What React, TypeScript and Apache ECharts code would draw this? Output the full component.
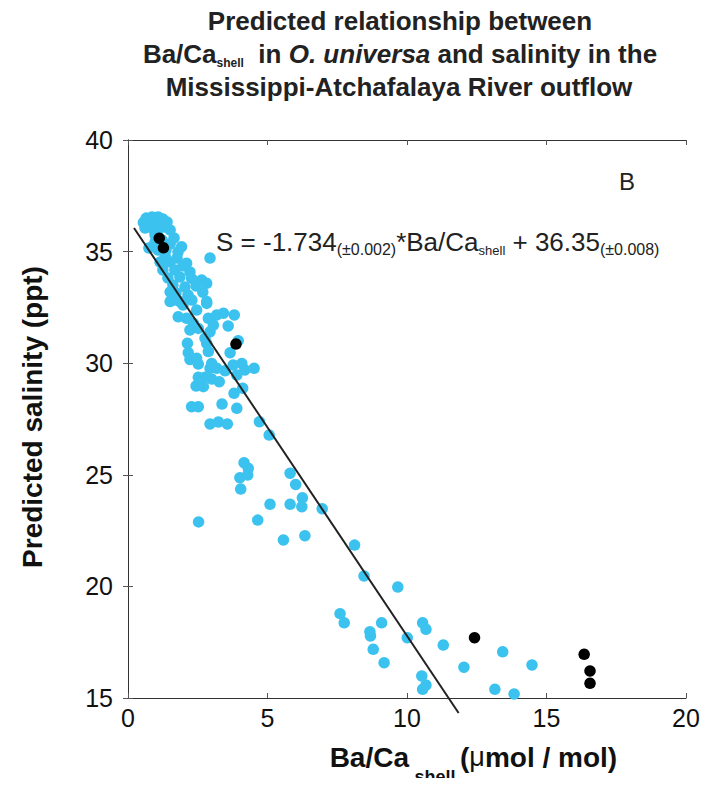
import React, { useEffect, useRef } from "react";
import * as echarts from "echarts";

// Ba/Ca shell (µmol/mol) and predicted salinity (ppt) – blue points
const blueBaCa = [
  0.65, 0.86, 1.08, 1.25, 0.75, 1.0, 1.22, 1.4, 0.61, 0.9, 1.51, 0.97, 1.65, 0.75, 1.51, 1.92, 1.79, 1.33,
  1.15, 1.51, 2.1, 2.94, 1.25, 1.68, 1.43, 1.86, 2.28, 2.64, 2.82, 1.61, 2.04, 2.68, 1.72, 2.15, 2.82, 1.97,
  1.08, 1.36, 0.97, 1.22, 1.76, 1.97, 2.22, 2.44, 1.65, 2.29, 1.51,
  1.51, 1.86, 2.82, 1.8, 2.46, 2.1, 2.34, 2.22, 2.52, 2.88, 3.06, 3.18, 3.42, 3.81, 3.59, 2.94, 2.76, 2.13,
  2.82, 2.88, 3.95, 3.66, 2.16, 2.22, 2.46, 2.52, 3.0, 2.94, 3.18, 3.48, 3.77, 4.08, 4.19, 4.52, 3.9, 2.52,
  2.76, 3.0, 3.27, 2.44, 2.7, 4.11, 3.8, 2.28, 2.52, 3.37, 3.9, 2.94, 3.24, 3.56,
  4.71, 5.06, 4.16, 4.31, 4.01, 4.29, 4.04, 5.81, 6.01, 6.25, 6.23, 5.81, 5.09, 6.96, 4.65, 2.53, 5.57, 6.34,
  8.12, 8.46, 9.67, 7.6, 7.75, 8.67, 8.69, 9.09, 8.79, 9.18, 10.01, 10.56, 10.68, 11.3, 12.04, 10.53, 10.68,
  10.56, 13.15, 13.43, 14.48, 13.84,
  0.8, 1.12, 0.7, 1.3, 0.55, 1.05,
];
const bluePredSal = [
  36.5, 36.55, 36.55, 36.46, 36.28, 36.28, 36.19, 36.33, 36.06, 36.01, 35.97, 35.74, 35.61, 35.16, 35.34,
  35.22, 34.98, 34.8, 34.53, 34.53, 34.48, 34.71, 34.18, 34.18, 33.82, 33.86, 33.8, 33.73, 33.58, 33.5, 33.41,
  33.18, 33.15, 33.06, 32.76, 32.61,
  35.07, 35.07, 35.43, 35.52, 34.71, 34.36, 34.09, 33.46, 32.83, 32.83, 33.19,
  32.76, 32.76, 32.68, 32.08, 32.38, 32.01, 31.79, 31.49, 31.56, 32.01, 31.71, 32.16, 32.24, 32.16, 31.67,
  31.41, 31.12, 30.89, 30.89, 30.52, 31.01, 30.47, 30.47, 30.17, 30.22, 29.96, 29.99, 29.77, 29.77, 29.66,
  29.92, 29.99, 29.7, 29.77, 29.47, 29.37, 29.37, 29.29, 29.17, 28.98, 28.95, 28.88, 28.65, 28.05, 28.05,
  28.17, 27.98, 27.28, 27.37, 27.28,
  27.38, 26.78, 25.54, 25.29, 24.87, 24.99, 24.36, 25.07, 24.57, 23.97, 23.57, 23.68, 23.68, 23.48, 22.97,
  22.89, 22.08, 22.27, 21.85, 20.47, 19.97, 18.78, 18.37, 17.97, 17.78, 18.37, 17.18, 16.58, 17.7, 18.37,
  18.08, 17.37, 16.38, 15.99, 15.58, 15.39, 15.39, 17.07, 16.48, 15.18,
  36.4, 36.4, 36.15, 36.1, 36.3, 35.9,
];

// black points
const blackBaCa = [1.12, 1.27, 3.87, 12.42, 16.35, 16.56, 16.56];
const blackPredSal = [35.6, 35.17, 30.86, 17.7, 16.96, 16.21, 15.66];

// regression line end points as drawn
const fitBaCa = [0.215, 11.85];
const fitPredSal = [36.06, 14.33];

const xTicks = [0, 5, 10, 15, 20];
const yTicks = [15, 20, 25, 30, 35, 40];

const BLUE = "#3cc2ef";
const SANS = "'Liberation Sans', Arial, Helvetica, sans-serif";

export default function App() {
  const ref = useRef<HTMLDivElement>(null);
  useEffect(() => {
    if (!ref.current) return;
    const chart = echarts.init(ref.current, undefined, { renderer: "svg" });
    const blue = blueBaCa.map((x, i) => [x, bluePredSal[i]]);
    const black = blackBaCa.map((x, i) => [x, blackPredSal[i]]);
    const fit = fitBaCa.map((x, i) => [x, fitPredSal[i]]);
    const axisLine = { show: true, lineStyle: { color: "#333", width: 1 } };
    const tick = { show: true, inside: true, length: 5, lineStyle: { color: "#555", width: 1 } };
    chart.setOption({
      animation: false,
      backgroundColor: "#fff",
      grid: { left: 128, top: 140, width: 558, height: 558, containLabel: false },
      xAxis: [
        {
          type: "value",
          min: xTicks[0],
          max: xTicks[xTicks.length - 1],
          interval: 5,
          axisLine,
          axisTick: tick,
          splitLine: { show: false },
          axisLabel: { color: "#111", fontSize: 25, fontFamily: SANS, margin: 7 },
        },
        {
          type: "value",
          position: "top",
          min: 0,
          max: 20,
          interval: 5,
          axisLine,
          axisTick: tick,
          splitLine: { show: false },
          axisLabel: { show: false },
        },
      ],
      yAxis: [
        {
          type: "value",
          min: yTicks[0],
          max: yTicks[yTicks.length - 1],
          interval: 5,
          axisLine,
          axisTick: tick,
          splitLine: { show: false },
          axisLabel: { color: "#111", fontSize: 25, fontFamily: SANS, margin: 15 },
        },
        {
          type: "value",
          position: "right",
          min: 15,
          max: 40,
          interval: 5,
          axisLine,
          axisTick: tick,
          splitLine: { show: false },
          axisLabel: { show: false },
        },
      ],
      series: [
        {
          type: "scatter",
          data: blue,
          symbolSize: 11.5,
          itemStyle: { color: BLUE, opacity: 1 },
          z: 2,
        },
        {
          type: "line",
          data: fit,
          clip: false,
          symbol: "none",
          lineStyle: { color: "#222", width: 2 },
          z: 3,
        },
        {
          type: "scatter",
          data: black,
          symbolSize: 11.5,
          itemStyle: { color: "#000", opacity: 1 },
          z: 4,
        },
      ],
      graphic: [
        {
          type: "text",
          x: 400,
          y: 21,
          style: {
            text: "Predicted relationship between",
            font: `bold 26px ${SANS}`,
            fill: "#222",
            textAlign: "center",
            textVerticalAlign: "middle",
          },
        },
        {
          type: "text",
          x: 400,
          y: 54,
          style: {
            text: "{b|Ba/Ca}{s|shell}{b|  in }{i|O. universa}{b| and salinity in the}",
            fill: "#222",
            textAlign: "center",
            textVerticalAlign: "middle",
            rich: {
              b: { font: `bold 26px ${SANS}`, fill: "#222", lineHeight: 30 },
              i: { font: `italic bold 26px ${SANS}`, fill: "#222", lineHeight: 30 },
              s: { font: `bold 12px ${SANS}`, fill: "#222", lineHeight: 30, verticalAlign: "bottom", padding: [10, 0, 0, 0] },
            },
          },
        },
        {
          type: "text",
          x: 399,
          y: 87,
          style: {
            text: "Mississippi-Atchafalaya River outflow",
            font: `bold 26px ${SANS}`,
            fill: "#222",
            textAlign: "center",
            textVerticalAlign: "middle",
          },
        },
        {
          type: "text",
          x: 627,
          y: 181,
          style: {
            text: "B",
            font: `24px ${SANS}`,
            fill: "#222",
            textAlign: "center",
            textVerticalAlign: "middle",
          },
        },
        {
          type: "text",
          x: 216,
          y: 242,
          style: {
            text: "{a|S = -1.734}{p|(±0.002)}{a|*Ba/Ca}{s|shell}{a| + 36.35}{p|(±0.008)}",
            fill: "#222",
            textVerticalAlign: "middle",
            rich: {
              a: { font: `26px ${SANS}`, fill: "#222", lineHeight: 30 },
              p: { font: `16px ${SANS}`, fill: "#222", lineHeight: 30, verticalAlign: "bottom", padding: [7, 0, 0, 0] },
              s: { font: `13px ${SANS}`, fill: "#222", lineHeight: 30, verticalAlign: "bottom", padding: [9, 0, 0, 0] },
            },
          },
        },
        {
          type: "text",
          x: 32,
          y: 417,
          rotation: Math.PI / 2,
          style: {
            text: "Predicted salinity (ppt)",
            font: `bold 28px ${SANS}`,
            fill: "#111",
            textAlign: "center",
            textVerticalAlign: "middle",
          },
        },
        {
          type: "text",
          x: 409,
          y: 757,
          style: {
            text: "Ba/Ca",
            font: `bold 28px ${SANS}`,
            fill: "#111",
            textAlign: "right",
            textVerticalAlign: "middle",
          },
        },
        {
          type: "text",
          x: 435,
          y: 777,
          style: {
            text: "shell",
            font: `bold 18px ${SANS}`,
            fill: "#111",
            textAlign: "center",
            textVerticalAlign: "middle",
          },
        },
        {
          type: "text",
          x: 460,
          y: 757,
          style: {
            text: "{m|(}{u|μ}{m|mol / mol)}",
            fill: "#111",
            textVerticalAlign: "middle",
            rich: {
              m: { font: `bold 28px ${SANS}`, fill: "#111" },
              u: { font: `27px ${SANS}`, fill: "#111" },
            },
          },
        },
        // cropped fragments of the neighbouring panel at the left edge
        {
          type: "line",
          shape: { x1: 3, y1: 503, x2: 3, y2: 521 },
          style: { stroke: "#333", lineWidth: 1.5 },
        },
        {
          type: "line",
          shape: { x1: 0, y1: 599, x2: 4, y2: 599 },
          style: { stroke: "#333", lineWidth: 2 },
        },
      ],
    });
    return () => chart.dispose();
  }, []);
  return <div ref={ref} style={{ width: 719, height: 786, margin: -8 }} />;
}
